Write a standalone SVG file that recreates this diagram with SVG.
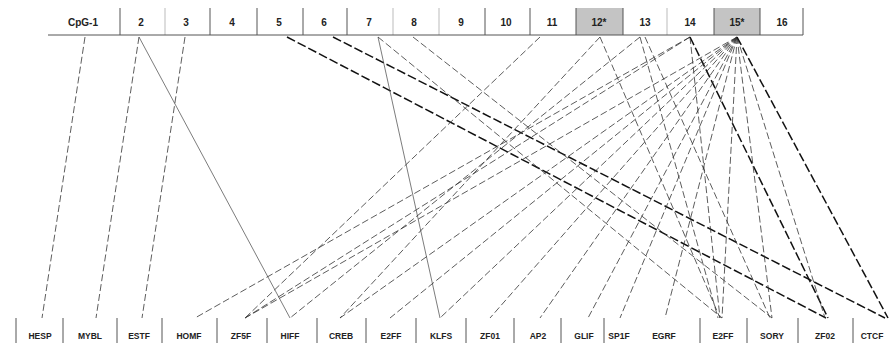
<svg xmlns="http://www.w3.org/2000/svg" width="894" height="343" viewBox="0 0 894 343">
<style>
.lbl{font-family:"Liberation Sans",Arial,sans-serif;font-size:8.5px;font-weight:bold;fill:#222;text-anchor:middle}
.top{font-size:10px}
.sep{stroke:#555;stroke-width:1}
.grey{fill:#c4c4c4}
.c{fill:none;stroke:#333;stroke-width:0.8;stroke-dasharray:7 3}
.t{fill:none;stroke:#111;stroke-width:1.5;stroke-dasharray:9 3}
.s{fill:none;stroke:#444;stroke-width:0.7}
</style>
<rect width="894" height="343" fill="#fff"/>
<g id="top-row">
<rect class="grey" x="576" y="8" width="47" height="27"/>
<rect class="grey" x="714" y="8" width="46" height="27"/>
<line class="sep" x1="48" y1="35" x2="803" y2="35"/>
<line class="sep" x1="120" y1="8" x2="120" y2="35"/>
<line class="sep" x1="165" y1="8" x2="165" y2="35" stroke-opacity="0.4"/>
<line class="sep" x1="210" y1="8" x2="210" y2="35"/>
<line class="sep" x1="257" y1="8" x2="257" y2="35"/>
<line class="sep" x1="303" y1="8" x2="303" y2="35"/>
<line class="sep" x1="347" y1="8" x2="347" y2="35"/>
<line class="sep" x1="393" y1="8" x2="393" y2="35" stroke-opacity="0.4"/>
<line class="sep" x1="439" y1="8" x2="439" y2="35" stroke-opacity="0.4"/>
<line class="sep" x1="485" y1="8" x2="485" y2="35"/>
<line class="sep" x1="530" y1="8" x2="530" y2="35"/>
<line class="sep" x1="576" y1="8" x2="576" y2="35"/>
<line class="sep" x1="623" y1="8" x2="623" y2="35"/>
<line class="sep" x1="667" y1="8" x2="667" y2="35" stroke-opacity="0.4"/>
<line class="sep" x1="714" y1="8" x2="714" y2="35"/>
<line class="sep" x1="760" y1="8" x2="760" y2="35"/>
<line class="sep" x1="803" y1="8" x2="803" y2="35"/>
</g>
<g id="n-cpg1"><text class="lbl top" x="83" y="26">CpG-1</text></g>
<g id="n-2"><text class="lbl top" x="141" y="26">2</text></g>
<g id="n-3"><text class="lbl top" x="186" y="26">3</text></g>
<g id="n-4"><text class="lbl top" x="232" y="26">4</text></g>
<g id="n-5"><text class="lbl top" x="279" y="26">5</text></g>
<g id="n-6"><text class="lbl top" x="324" y="26">6</text></g>
<g id="n-7"><text class="lbl top" x="369" y="26">7</text></g>
<g id="n-8"><text class="lbl top" x="414" y="26">8</text></g>
<g id="n-9"><text class="lbl top" x="461" y="26">9</text></g>
<g id="n-10"><text class="lbl top" x="506" y="26">10</text></g>
<g id="n-11"><text class="lbl top" x="552" y="26">11</text></g>
<g id="n-12"><text class="lbl top" x="599" y="26">12*</text></g>
<g id="n-13"><text class="lbl top" x="645" y="26">13</text></g>
<g id="n-14"><text class="lbl top" x="690" y="26">14</text></g>
<g id="n-15"><text class="lbl top" x="737" y="26">15*</text></g>
<g id="n-16"><text class="lbl top" x="782" y="26">16</text></g>
<g id="bottom-row">
<line class="sep" x1="16" y1="318" x2="16" y2="343"/>
<line class="sep" x1="63" y1="318" x2="63" y2="343"/>
<line class="sep" x1="117" y1="318" x2="117" y2="343"/>
<line class="sep" x1="162" y1="318" x2="162" y2="343"/>
<line class="sep" x1="217" y1="318" x2="217" y2="343"/>
<line class="sep" x1="267" y1="318" x2="267" y2="343"/>
<line class="sep" x1="317" y1="318" x2="317" y2="343"/>
<line class="sep" x1="366" y1="318" x2="366" y2="343"/>
<line class="sep" x1="416" y1="318" x2="416" y2="343"/>
<line class="sep" x1="466" y1="318" x2="466" y2="343"/>
<line class="sep" x1="514" y1="318" x2="514" y2="343"/>
<line class="sep" x1="561" y1="318" x2="561" y2="343"/>
<line class="sep" x1="604" y1="318" x2="604" y2="343"/>
<line class="sep" x1="700" y1="318" x2="700" y2="343"/>
<line class="sep" x1="747" y1="318" x2="747" y2="343"/>
<line class="sep" x1="798" y1="318" x2="798" y2="343"/>
<line class="sep" x1="853" y1="318" x2="853" y2="343"/>
</g>
<g id="b-hesp"><text class="lbl" x="40" y="339">HESP</text></g>
<g id="b-mybl"><text class="lbl" x="90" y="339">MYBL</text></g>
<g id="b-estf"><text class="lbl" x="139" y="339">ESTF</text></g>
<g id="b-homf"><text class="lbl" x="189" y="339">HOMF</text></g>
<g id="b-zf5f"><text class="lbl" x="241" y="339">ZF5F</text></g>
<g id="b-hiff"><text class="lbl" x="290" y="339">HIFF</text></g>
<g id="b-creb"><text class="lbl" x="341" y="339">CREB</text></g>
<g id="b-e2ff"><text class="lbl" x="391" y="339">E2FF</text></g>
<g id="b-klfs"><text class="lbl" x="441" y="339">KLFS</text></g>
<g id="b-zf01"><text class="lbl" x="490" y="339">ZF01</text></g>
<g id="b-ap2"><text class="lbl" x="538" y="339">AP2</text></g>
<g id="b-glif"><text class="lbl" x="584" y="339">GLIF</text></g>
<g id="b-sp1f"><text class="lbl" x="619" y="339">SP1F</text></g>
<g id="b-egrf"><text class="lbl" x="664" y="339">EGRF</text></g>
<g id="b-e2ff2"><text class="lbl" x="723" y="339">E2FF</text></g>
<g id="b-sory"><text class="lbl" x="772" y="339">SORY</text></g>
<g id="b-zf02"><text class="lbl" x="825" y="339">ZF02</text></g>
<g id="b-ctcf"><text class="lbl" x="872" y="339">CTCF</text></g>
<g id="connectors">
<line class="c" x1="85" y1="37" x2="42" y2="318"/>
<line class="c" x1="139" y1="37" x2="96" y2="318"/>
<line class="s" x1="139" y1="37" x2="290" y2="318"/>
<line class="c" x1="185" y1="37" x2="142" y2="318"/>
<line class="t" x1="287" y1="37" x2="826" y2="318"/>
<line class="t" x1="333" y1="37" x2="885" y2="318"/>
<line class="s" x1="378" y1="37" x2="440" y2="318"/>
<line class="c" x1="378" y1="37" x2="722" y2="318"/>
<line class="c" x1="413" y1="37" x2="772" y2="318"/>
<line class="c" x1="540" y1="37" x2="245" y2="318"/>
<line class="c" x1="600" y1="37" x2="340" y2="318"/>
<line class="c" x1="600" y1="37" x2="720" y2="318"/>
<line class="c" x1="640" y1="37" x2="290" y2="318"/>
<line class="c" x1="640" y1="37" x2="718" y2="318"/>
<line class="c" x1="645" y1="37" x2="770" y2="318"/>
<line class="c" x1="690" y1="37" x2="245" y2="318"/>
<line class="c" x1="690" y1="37" x2="195" y2="318"/>
<line class="c" x1="690" y1="37" x2="720" y2="318"/>
<line class="t" x1="690" y1="37" x2="828" y2="318"/>
<line class="c" x1="737" y1="37" x2="245" y2="318"/>
<line class="c" x1="737" y1="37" x2="340" y2="318"/>
<line class="c" x1="737" y1="37" x2="390" y2="318"/>
<line class="c" x1="737" y1="37" x2="440" y2="318"/>
<line class="c" x1="737" y1="37" x2="490" y2="318"/>
<line class="c" x1="737" y1="37" x2="540" y2="318"/>
<line class="c" x1="737" y1="37" x2="588" y2="318"/>
<line class="c" x1="737" y1="37" x2="620" y2="318"/>
<line class="c" x1="737" y1="37" x2="665" y2="318"/>
<line class="c" x1="737" y1="37" x2="722" y2="318"/>
<line class="c" x1="737" y1="37" x2="772" y2="318"/>
<line class="c" x1="737" y1="37" x2="825" y2="318"/>
<line class="t" x1="737" y1="37" x2="888" y2="318"/>
</g>
</svg>
